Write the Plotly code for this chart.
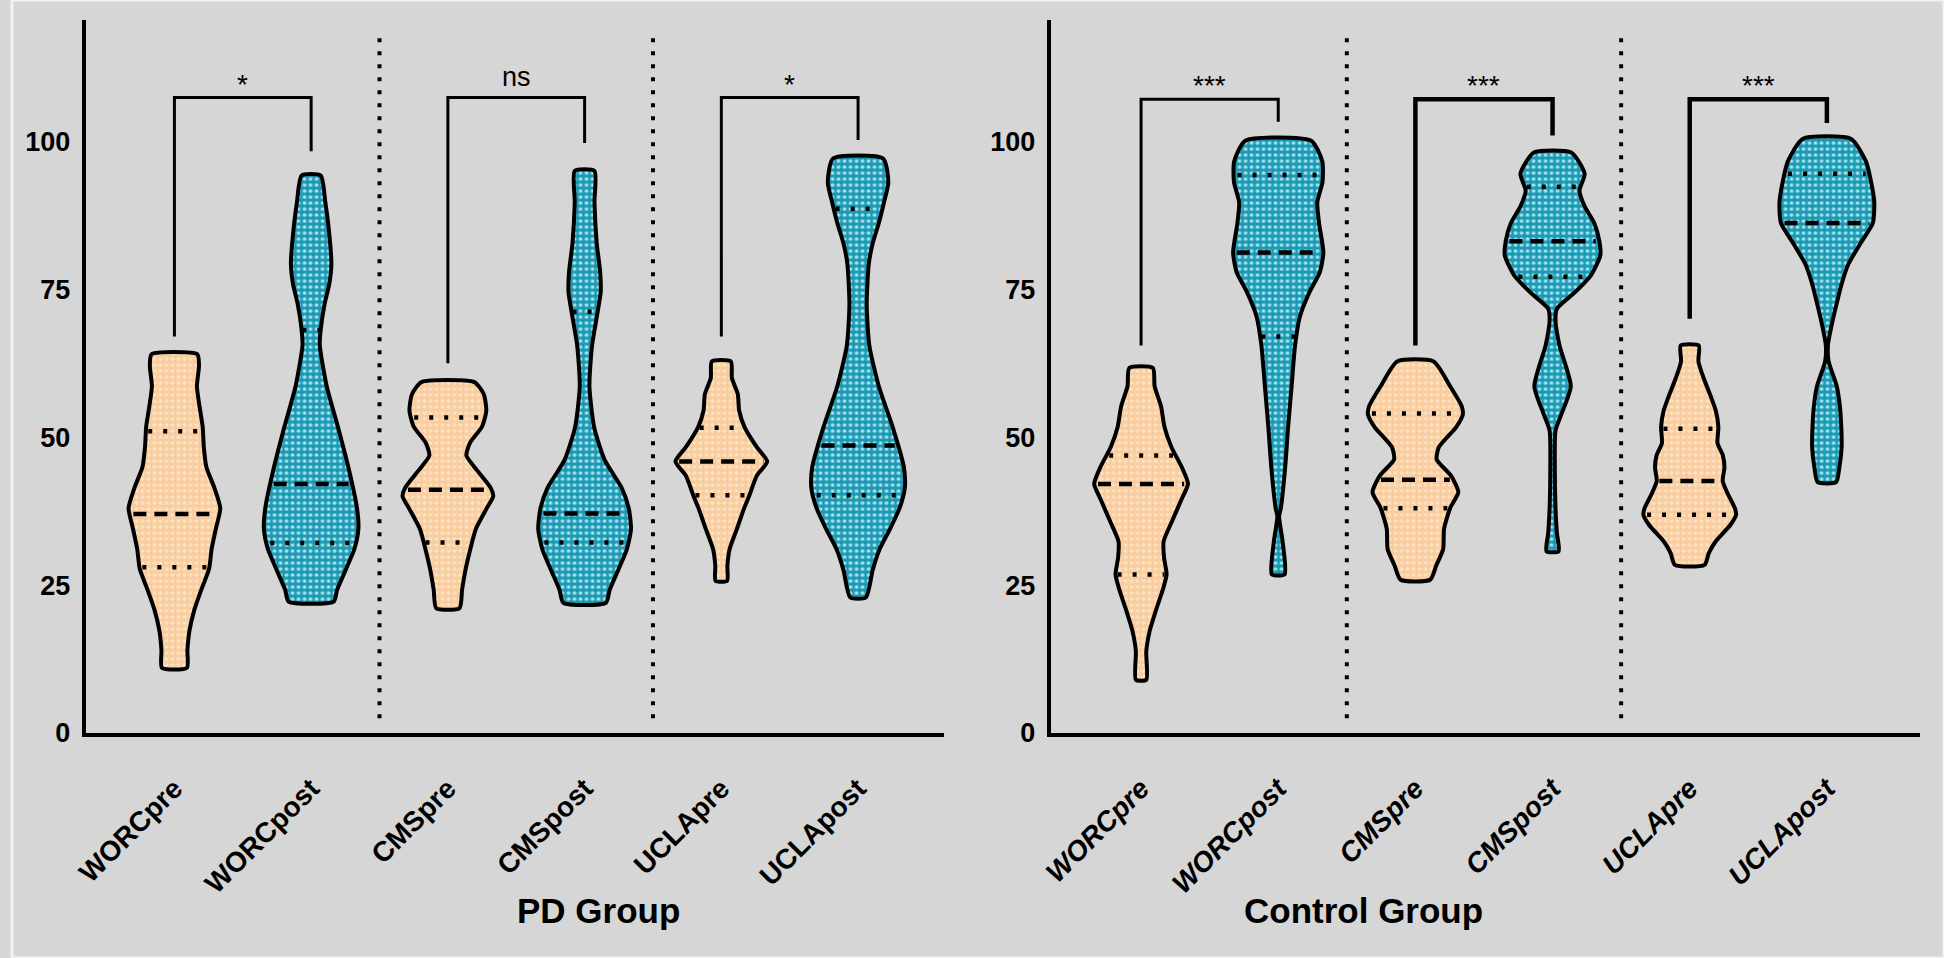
import numpy as np
import plotly.graph_objects as go

# ---------------- data ----------------
categories = ["WORCpre", "WORCpost", "CMSpre", "CMSpost", "UCLApre", "UCLApost"]
y_ticks = [0, 25, 50, 75, 100]
panel_titles = ["PD Group", "Control Group"]

# violin density profiles: levels (score) and relative widths
pd_levels = [
    [64.0, 62.1, 58.6, 55.2, 51.8, 48.3, 44.9, 41.5, 38.0, 34.6, 31.1, 27.7, 24.2, 20.8, 17.3, 14.0, 11.0],
    [94.2, 89.7, 86.2, 79.3, 75.9, 72.4, 68.1, 65.5, 58.6, 51.7, 44.9, 38.0, 34.5, 31.1, 27.6, 24.2, 22.2],
    [59.3, 57.3, 54.5, 51.8, 49.0, 46.9, 44.9, 41.4, 40.0, 38.0, 34.5, 31.1, 27.6, 24.2, 21.1],
    [95.0, 89.7, 82.8, 77.9, 74.5, 71.1, 65.5, 58.6, 51.7, 46.2, 41.4, 38.0, 34.5, 31.1, 27.6, 24.2, 22.0],
    [62.8, 60.0, 57.3, 54.5, 51.7, 48.3, 45.9, 43.5, 40.0, 38.0, 34.5, 31.1, 28.3, 25.7],
    [97.1, 93.1, 89.7, 86.2, 82.8, 79.3, 72.4, 65.5, 58.6, 51.7, 44.9, 41.4, 38.0, 34.5, 31.1, 27.6, 22.9],
]
pd_widths = [
    [132, 142, 130, 145, 163, 170, 185, 230, 265, 240, 215, 200, 155, 115, 87, 75, 72],
    [55, 82, 98, 117, 105, 77, 55, 50, 90, 155, 215, 265, 273, 250, 200, 150, 130],
    [153, 207, 222, 198, 127, 107, 155, 248, 262, 225, 162, 130, 102, 82, 67],
    [57, 57, 70, 90, 93, 75, 43, 28, 55, 115, 215, 255, 268, 245, 195, 145, 123],
    [55, 61, 95, 103, 134, 205, 265, 205, 160, 132, 90, 48, 35, 33],
    [145, 175, 150, 120, 85, 62, 50, 65, 120, 200, 265, 270, 240, 185, 125, 85, 45],
]
pd_q1 = [28.0, 32.1, 32.2, 32.2, 40.2, 40.2]
pd_median = [37.0, 42.1, 41.1, 37.1, 45.9, 48.6]
pd_q3 = [51.0, 68.1, 53.3, 71.2, 51.6, 88.6]

ctrl_levels = [
    [61.7, 58.6, 55.2, 51.7, 48.3, 44.9, 42.1, 39.3, 35.9, 32.4, 29.7, 26.8, 24.2, 20.7, 17.3, 13.8, 9.0],
    [100.1, 96.6, 93.1, 89.7, 86.2, 81.2, 77.9, 74.5, 70.4, 65.5, 58.6, 51.7, 44.9, 38.0, 36.6, 32.4, 26.8],
    [62.8, 58.6, 55.2, 53.8, 51.7, 48.3, 46.2, 43.5, 40.7, 38.0, 34.5, 31.1, 28.3, 25.9],
    [98.1, 94.5, 91.7, 89.0, 86.2, 83.1, 80.7, 77.3, 74.5, 71.7, 69.7, 65.5, 58.6, 53.8, 51.1, 44.9, 38.0, 33.8, 30.7],
    [65.5, 62.8, 60.0, 56.6, 54.5, 51.7, 49.0, 47.0, 44.9, 42.6, 40.7, 38.0, 36.9, 35.2, 32.4, 30.4, 28.4],
    [100.4, 96.6, 93.1, 89.7, 86.2, 82.8, 79.3, 75.9, 72.4, 69.0, 65.5, 62.8, 58.6, 55.2, 51.7, 48.3, 44.9, 42.4],
]
ctrl_widths = [
    [68, 78, 115, 135, 175, 235, 270, 230, 180, 130, 132, 147, 125, 85, 50, 30, 30],
    [190, 254, 255, 225, 235, 260, 240, 180, 125, 97, 77, 57, 40, 15, 5, 25, 37],
    [105, 200, 267, 273, 235, 135, 123, 205, 247, 200, 165, 160, 120, 85],
    [108, 185, 155, 185, 240, 270, 275, 220, 130, 25, 17, 40, 105, 50, 17, 13, 17, 25, 35],
    [52, 50, 80, 125, 150, 165, 160, 190, 200, 190, 215, 260, 267, 235, 150, 110, 85],
    [140, 225, 255, 273, 265, 195, 125, 85, 55, 28, 6, 10, 57, 75, 83, 85, 72, 53],
]
ctrl_q1 = [26.8, 67.0, 38.0, 77.1, 36.9, 64.0]
ctrl_median = [42.1, 81.2, 42.8, 83.1, 42.6, 86.2]
ctrl_q3 = [46.9, 94.3, 54.0, 92.3, 51.4, 94.5]

# significance brackets
pd_bracket_pre = [67.0, 62.5, 67.0]
pd_bracket_post = [98.3, 99.7, 100.2]
pd_bracket_top = 107.4
pd_labels = ["*", "ns", "*"]
ctrl_bracket_pre = [65.5, 65.5, 70.0]
ctrl_bracket_post = [103.3, 101.0, 103.1]
ctrl_bracket_top = 107.1
ctrl_labels = ["***", "***", "***"]

# ---------------- style ----------------
BG = "#d6d6d6"
PEACH_BG, PEACH_FG = "#f9cd9e", "#fde3c6"
TEAL_BG, TEAL_FG = "#1b9ab4", "#a8e2ee"
FONT = "Liberation Sans"
WSCALE = 1 / 790.0  # relative width -> category units (half width)

panels = [
    dict(levels=pd_levels, widths=pd_widths, q1=pd_q1, med=pd_median, q3=pd_q3,
         bpre=pd_bracket_pre, bpost=pd_bracket_post, btop=pd_bracket_top, blab=pd_labels,
         xa="x", ya="y", bw=[3, 3, 3]),
    dict(levels=ctrl_levels, widths=ctrl_widths, q1=ctrl_q1, med=ctrl_median, q3=ctrl_q3,
         bpre=ctrl_bracket_pre, bpost=ctrl_bracket_post, btop=ctrl_bracket_top, blab=ctrl_labels,
         xa="x2", ya="y2", bw=[3, 4.5, 4.5]),
]

fig = go.Figure()
annotations = []

for p in panels:
    xa, ya = p["xa"], p["ya"]
    # separators
    for sx in [1.5, 3.5]:
        fig.add_trace(go.Scatter(x=[sx, sx], y=[2.5, 118], mode="lines", xaxis=xa, yaxis=ya,
                                 line=dict(color="black", width=4, dash="4px,9px"),
                                 showlegend=False, hoverinfo="skip"))
    for i in range(len(categories)):
        lv = np.array(p["levels"][i], dtype=float)
        hw = np.array(p["widths"][i], dtype=float) * WSCALE
        xs = list(i + hw) + list(i - hw[::-1]) + [i + hw[0]]
        ys = list(lv) + list(lv[::-1]) + [lv[0]]
        pre = (i % 2 == 0)
        bgc, fgc = (PEACH_BG, PEACH_FG) if pre else (TEAL_BG, TEAL_FG)
        fig.add_trace(go.Scatter(
            x=xs, y=ys, mode="lines", fill="toself", xaxis=xa, yaxis=ya,
            line=dict(color="black", width=4, shape="spline", smoothing=0.6),
            fillcolor=bgc,
            fillpattern=dict(shape=".", bgcolor=bgc, fgcolor=fgc, size=6, solidity=0.3,
                             fillmode="replace"),
            showlegend=False, hoverinfo="skip"))
        # quartile lines
        lv_r, hw_r = lv[::-1], hw[::-1]
        for val, dash in [(p["med"][i], "13px,8px"), (p["q1"][i], "4px,11px"), (p["q3"][i], "4px,11px")]:
            h = float(np.interp(val, lv_r, hw_r)) * 0.92
            fig.add_trace(go.Scatter(x=[i - h, i + h], y=[val, val], mode="lines", xaxis=xa, yaxis=ya,
                                     line=dict(color="black", width=4.5, dash=dash),
                                     showlegend=False, hoverinfo="skip"))
    # brackets
    for k in range(3):
        a, b = 2 * k, 2 * k + 1
        fig.add_trace(go.Scatter(x=[a, a, b, b], y=[p["bpre"][k], p["btop"], p["btop"], p["bpost"][k]],
                                 mode="lines", xaxis=xa, yaxis=ya,
                                 line=dict(color="black", width=p["bw"][k]),
                                 showlegend=False, hoverinfo="skip"))
        lab = p["blab"][k]
        off = -0.7 if "*" in lab else 0.6
        annotations.append(dict(x=(a + b) / 2, y=p["btop"] + off, xref=xa, yref=ya, text=lab,
                                showarrow=False, yanchor="bottom",
                                font=dict(family=FONT, size=28 if "*" in lab else 27, color="black")))

def xaxis_cfg(domain, rng, style):
    return dict(domain=domain, range=rng, tickvals=list(range(len(categories))), ticktext=categories,
                tickangle=-45, tickfont=dict(family=FONT, size=28, color="black", weight="bold", style=style),
                showline=True, linewidth=4, linecolor="black", showgrid=False, zeroline=False,
                ticks="", ticklabelstandoff=24, fixedrange=True)

def yaxis_cfg(anchor):
    return dict(anchor=anchor, domain=[0, 1], range=[0, 120.5], tickvals=y_ticks,
                tickfont=dict(family=FONT, size=27, color="black", weight="bold"),
                showline=True, linewidth=3.5, linecolor="black", showgrid=False, zeroline=False,
                ticks="", ticklabelstandoff=6, fixedrange=True)

dom1 = [74 / 1944, 938 / 1944]
dom2 = [1045 / 1944, 1920 / 1944]
for dom, title in zip([dom1, dom2], panel_titles):
    annotations.append(dict(x=(dom[0] + dom[1]) / 2, y=-(910 - 733) / 713, xref="paper", yref="paper",
                            text=title, showarrow=False, yanchor="middle",
                            font=dict(family=FONT, size=35, color="black", weight="bold")))

fig.update_layout(
    width=1944, height=958,
    margin=dict(l=0, r=0, t=20, b=225),
    paper_bgcolor=BG, plot_bgcolor="rgba(0,0,0,0)",
    xaxis=xaxis_cfg(dom1, [-0.65, 5.63], "normal"),
    yaxis=yaxis_cfg("x"),
    xaxis2=xaxis_cfg(dom2, [-0.66, 5.68], "italic"),
    yaxis2=yaxis_cfg("x2"),
    annotations=annotations,
    shapes=[dict(type="rect", xref="paper", yref="paper", x0=0.0, x1=1.0,
                 y0=-225 / 713, y1=1 + 20 / 713,
                 line=dict(color="#f2f2f2", width=3), layer="below")],
    showlegend=False,
)

fig.write_html("out.html", config={"displayModeBar": False},
               post_script="document.body.style.margin='0';document.body.style.overflow='hidden';")
